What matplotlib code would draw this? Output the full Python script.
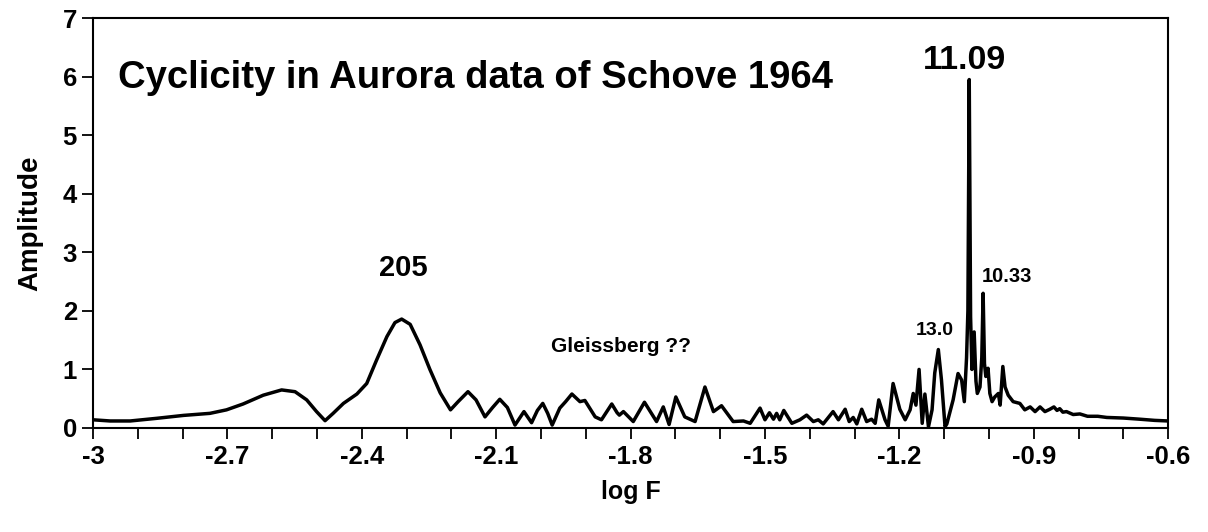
import matplotlib.pyplot as plt
from matplotlib.ticker import MultipleLocator

plt.rcParams['font.family'] = ['Liberation Sans', 'DejaVu Sans']

# spectrum: log F and amplitude
log_f = [-3.000, -2.962, -2.917, -2.858, -2.798, -2.739, -2.702, -2.665, -2.620, -2.579,
         -2.549, -2.523, -2.501, -2.482, -2.464, -2.441, -2.411, -2.389, -2.367, -2.344,
         -2.326, -2.311, -2.292, -2.270, -2.248, -2.225, -2.202, -2.185, -2.163, -2.145,
         -2.125, -2.108, -2.092, -2.075, -2.058, -2.038, -2.021, -2.008, -1.996, -1.985,
         -1.975, -1.958, -1.945, -1.931, -1.913, -1.902, -1.879, -1.865, -1.842, -1.830,
         -1.825, -1.816, -1.794, -1.769, -1.742, -1.727, -1.714, -1.699, -1.679, -1.656,
         -1.634, -1.615, -1.597, -1.571, -1.548, -1.533, -1.511, -1.500, -1.490, -1.481,
         -1.474, -1.467, -1.458, -1.440, -1.422, -1.407, -1.392, -1.381, -1.370, -1.348,
         -1.336, -1.321, -1.312, -1.303, -1.295, -1.284, -1.273, -1.262, -1.254, -1.246,
         -1.232, -1.225, -1.214, -1.199, -1.187, -1.176, -1.169, -1.163, -1.156, -1.149,
         -1.143, -1.135, -1.127, -1.121, -1.113, -1.106, -1.098, -1.094, -1.080, -1.069,
         -1.061, -1.055, -1.050, -1.047, -1.044, -1.041, -1.038, -1.033, -1.029, -1.026,
         -1.020, -1.016, -1.013, -1.010, -1.007, -1.002, -0.998, -0.993, -0.987, -0.979,
         -0.975, -0.969, -0.964, -0.957, -0.946, -0.931, -0.920, -0.908, -0.897, -0.886,
         -0.875, -0.864, -0.855, -0.848, -0.842, -0.835, -0.827, -0.812, -0.797, -0.780,
         -0.757, -0.737, -0.700, -0.663, -0.630, -0.600]
amplitude = [0.14, 0.12, 0.12, 0.165, 0.215, 0.25, 0.31, 0.41, 0.56, 0.65,
             0.62, 0.48, 0.28, 0.125, 0.25, 0.42, 0.58, 0.76, 1.16, 1.56,
             1.80, 1.86, 1.77, 1.42, 1.00, 0.60, 0.31, 0.45, 0.62, 0.48,
             0.19, 0.35, 0.49, 0.35, 0.05, 0.28, 0.09, 0.30, 0.42, 0.25,
             0.05, 0.34, 0.45, 0.58, 0.45, 0.47, 0.19, 0.14, 0.41, 0.26,
             0.22, 0.28, 0.11, 0.44, 0.11, 0.36, 0.06, 0.53, 0.19, 0.11,
             0.70, 0.28, 0.38, 0.11, 0.12, 0.08, 0.34, 0.14, 0.26, 0.15,
             0.25, 0.14, 0.30, 0.08, 0.14, 0.22, 0.11, 0.14, 0.07, 0.28,
             0.14, 0.32, 0.11, 0.18, 0.07, 0.32, 0.11, 0.15, 0.08, 0.48,
             0.14, 0.03, 0.76, 0.32, 0.14, 0.31, 0.59, 0.39, 1.00, 0.08,
             0.58, 0.02, 0.31, 0.94, 1.34, 0.82, 0.02, 0.07, 0.48, 0.93,
             0.82, 0.45, 1.20, 2.00, 5.95, 1.90, 1.00, 1.64, 0.80, 0.59,
             0.70, 1.20, 2.30, 1.10, 0.88, 1.02, 0.59, 0.45, 0.53, 0.59,
             0.39, 1.05, 0.70, 0.56, 0.45, 0.42, 0.31, 0.36, 0.28, 0.36,
             0.28, 0.32, 0.36, 0.30, 0.33, 0.27, 0.28, 0.23, 0.24, 0.20,
             0.20, 0.18, 0.17, 0.15, 0.13, 0.12]

# annotations: text, log F, amplitude, size
notes = [('205', -2.307, 2.73, 21),
         ('11.09', -1.055, 6.28, 24.5),
         ('10.33', -0.960, 2.59, 14.5),
         ('13.0', -1.121, 1.67, 14),
         ('Gleissberg ??', -1.822, 1.40, 15)]

fig = plt.figure(figsize=(12.08, 5.32), dpi=100)
ax = fig.add_axes([0.077, 0.1955, 0.890, 0.7705])

ax.plot(log_f, amplitude, color='black', lw=2.5, solid_joinstyle='round')

ax.set_xlim(-3, -0.6)
ax.set_ylim(0, 7)
ax.xaxis.set_minor_locator(MultipleLocator(0.1))
ax.yaxis.set_major_locator(MultipleLocator(1))
ax.set_xticks([-3, -2.7, -2.4, -2.1, -1.8, -1.5, -1.2, -0.9, -0.6])
ax.set_xticklabels(['-3', '-2.7', '-2.4', '-2.1', '-1.8', '-1.5', '-1.2', '-0.9', '-0.6'])
ax.tick_params(axis='both', which='both', direction='out', length=8, width=1.3,
               labelsize=18.5)
ax.tick_params(axis='x', pad=4)
for lab in ax.get_xticklabels() + ax.get_yticklabels():
    lab.set_fontweight('bold')
for sp in ax.spines.values():
    sp.set_linewidth(1.5)

ax.set_xlabel('log F', fontsize=18, fontweight='bold', labelpad=8)
ax.set_ylabel('Amplitude', fontsize=20, fontweight='bold', labelpad=14)

ax.text(-2.945, 5.97, 'Cyclicity in Aurora data of Schove 1964', fontsize=27.5,
        fontweight='bold', va='center', ha='left')
for txt, x, y, size in notes:
    ax.text(x, y, txt, fontsize=size, fontweight='bold', ha='center', va='center')

fig.savefig('out.png', dpi=100)
